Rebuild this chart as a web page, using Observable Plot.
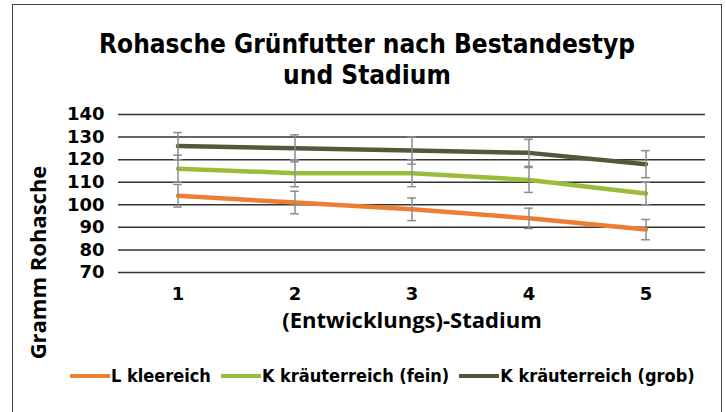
<!DOCTYPE html>
<html><head><meta charset="utf-8">
<script src="https://cdn.jsdelivr.net/npm/d3@7"></script>
<script src="https://cdn.jsdelivr.net/npm/@observablehq/plot@0.6"></script>
<style>
body{margin:0;background:#fff;}
#wrap{position:relative;width:726px;height:412px;overflow:hidden;background:#fff;}
#frame{position:absolute;left:12px;top:4px;width:710px;height:420px;border:1.5px solid #444;box-sizing:border-box;}
.tl{position:absolute;left:12px;width:710px;text-align:center;font-family:"DejaVu Sans",sans-serif;font-stretch:condensed;font-weight:bold;font-size:26px;line-height:30px;color:#000;}
#chart{position:absolute;left:0;top:95px;}
#legend{position:absolute;left:70px;top:365px;display:flex;align-items:center;font-family:"DejaVu Sans",sans-serif;font-stretch:condensed;font-weight:bold;font-size:18px;color:#000;white-space:nowrap;}
.sw{display:inline-block;width:40px;height:4px;margin-right:1px;}
.it{display:flex;align-items:center;margin-right:10px;}
</style></head>
<body><div id="wrap"><div id="frame"></div>
<div class="tl" style="top:29px">Rohasche Grünfutter nach Bestandestyp</div>
<div class="tl" style="top:60px">und Stadium</div>
<div id="chart"></div><div id="legend"></div></div>
<script>
const stadien = [1, 2, 3, 4, 5];
const seriesNames = ["L kleereich", "K kräuterreich (fein)", "K kräuterreich (grob)"];
const seriesColors = ["#ed7d31", "#9bbb3b", "#4f5a3a"];
const kleereich = [104, 101, 98, 94, 89];
const kraeuterFein = [116, 114, 114, 111, 105];
const kraeuterGrob = [126, 125, 124, 123, 118];
const errKleereich = [5, 5, 5, 4.5, 4.5];
const errFein = [6, 6, 6, 5.5, 5];
const errGrob = [6, 6, 6, 6, 6];
const yTicks = [70, 80, 90, 100, 110, 120, 130, 140];
const yLabel = "Gramm Rohasche";
const xLabel = "(Entwicklungs)-Stadium";

const values = [kleereich, kraeuterFein, kraeuterGrob];
const errs = [errKleereich, errFein, errGrob];
const data = [];
seriesNames.forEach((s, i) => stadien.forEach((st, j) => data.push({series: s, stadium: st, value: values[i][j], err: errs[i][j]})));

const W = 726, ML = 118, MR = 21;
const capInset = ((W - ML - MR) / stadien.length - 9) / 2;
const tickFont = "'DejaVu Sans', sans-serif";
const labelFont = "'Open Sans', sans-serif";
const chart = Plot.plot({
  width: W, height: 245,
  marginLeft: ML, marginRight: MR, marginTop: 19, marginBottom: 68,
  style: {fontFamily: tickFont, fontWeight: "bold", fontSize: "18px", color: "#000", background: "transparent", overflow: "visible"},
  x: {type: "band", domain: stadien, padding: 0},
  y: {domain: [70, 140]},
  color: {domain: seriesNames, range: seriesColors},
  marks: [
    Plot.ruleY(yTicks, {stroke: "#333", strokeWidth: 1.5}),
    Plot.axisY({ticks: yTicks, tickSize: 0, tickPadding: 14, label: null, fontSize: 18, fontWeight: "bold"}),
    Plot.axisX({tickSize: 0, tickPadding: 15, label: null, fontSize: 18, fontWeight: "bold"}),
    Plot.text([yLabel], {text: d => d, frameAnchor: "left", textAnchor: "middle", rotate: -90, dx: -80, dy: 69, fontFamily: labelFont, fontSize: 22, fontWeight: "bold", fill: "#000"}),
    Plot.text([xLabel], {text: d => d, frameAnchor: "bottom", dy: 55, fontFamily: labelFont, fontSize: 22, fontWeight: "bold", fill: "#000"}),
    Plot.line(data, {x: "stadium", y: "value", z: "series", stroke: "series", strokeWidth: 4.5}),
    Plot.ruleX(data, {x: "stadium", y1: d => d.value - d.err, y2: d => d.value + d.err, stroke: "#8c8c8c", strokeWidth: 1.5}),
    Plot.tickY(data, {x: "stadium", y: d => d.value - d.err, stroke: "#8c8c8c", strokeWidth: 1.5, insetLeft: capInset, insetRight: capInset}),
    Plot.tickY(data, {x: "stadium", y: d => d.value + d.err, stroke: "#8c8c8c", strokeWidth: 1.5, insetLeft: capInset, insetRight: capInset})
  ]
});
document.getElementById("chart").appendChild(chart);

const leg = document.getElementById("legend");
seriesNames.forEach((s, i) => {
  const it = document.createElement("span"); it.className = "it";
  const sw = document.createElement("span"); sw.className = "sw"; sw.style.background = seriesColors[i];
  it.appendChild(sw); it.appendChild(document.createTextNode(s)); leg.appendChild(it);
});
</script></body></html>
